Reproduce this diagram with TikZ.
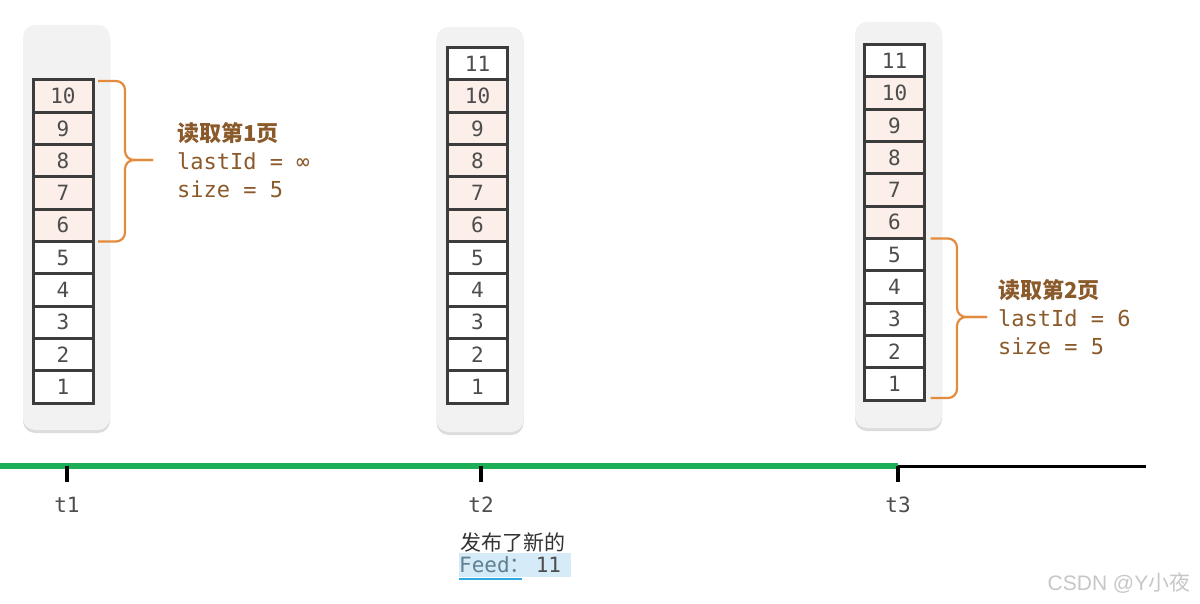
\documentclass[tikz,border=0pt]{standalone}
\usepackage{fontspec}
\usepackage{tikz}
\usetikzlibrary{positioning,calc,shadows}
\usepackage{xcolor}
\setmainfont{Liberation Sans}
\newfontfamily\codefont{DejaVu Sans Mono}
\newfontfamily\cjk{Noto Sans CJK SC}
\definecolor{panelgray}{HTML}{F2F2F2}
\definecolor{cellline}{HTML}{3C3C3C}
\definecolor{pagefill}{HTML}{FCEEE8}
\definecolor{digit}{HTML}{4D4D4D}
\definecolor{bkorange}{HTML}{E38B3C}
\definecolor{brown}{HTML}{8B5A2B}
\definecolor{tlgreen}{HTML}{1DAF55}
\definecolor{hlblue}{HTML}{D5EBF7}
\definecolor{ulblue}{HTML}{2FA8E0}
\definecolor{feedtxt}{HTML}{5F7F94}

\begin{document}
\begin{tikzpicture}[x=1pt,y=-1pt,
        panel/.style={fill=panelgray,rounded corners=12pt,minimum width=87pt,inner sep=0pt,
          drop shadow={shadow xshift=0pt,shadow yshift=-3pt,opacity=.3,fill=black!45}},
        c/.style={draw=cellline,line width=3pt,minimum width=60pt,minimum height=32.3pt,
          inner sep=0pt,outer sep=0pt,text=digit,font=\codefont\fontsize{21}{21}\selectfont},
        b/.style={draw=bkorange,line width=2.2pt,rounded corners=9pt},
        lbl/.style={text=brown,align=left,inner sep=0pt,font=\codefont\fontsize{22}{28}\selectfont},
        tl/.style={text=digit,inner sep=0pt,font=\codefont\fontsize{21}{21}\selectfont},
        tick/.style={line width=3.4pt,black}]
        \fill[white] (0,0) rectangle (1200,604);
        \useasboundingbox (0,0) rectangle (1200,604);
        % panels
        \node[panel,minimum height=405pt] (p1) at (66.5,227.5) {};
        \node[panel,minimum height=405pt] (p2) at (480,229.5) {};
        \node[panel,minimum height=406pt] (p3) at (898.5,225) {};
        % cells
        \foreach \col/\cx/\cy/\n in {l/63/403/10,m/477.5/403/11,r/894.5/400/11}{
          \foreach \k in {1,...,\n}{
            \ifnum\k>5 \ifnum\k<11 \def\cf{pagefill}\else\def\cf{white}\fi\else\def\cf{white}\fi
            \node[c,fill=\cf] (\col\k) at (\cx,{\cy-16.15-(\k-1)*32.3}) {\k};
          }
        }
        % brackets
        \coordinate (tip1) at (153,160);
        \draw[b] ($(l10.north east)+(5,1)$) -| ($(tip1)+(-28,0)$) -- (tip1);
        \draw[b] ($(l6.south east)+(5,0)$) -| ($(tip1)+(-28,0)$) -- (tip1);
        \node[lbl,right=24pt of tip1] (page1) {{\cjk\bfseries 读取第1页}\\lastId = ∞\\size = 5};
        \coordinate (tip2) at (987,317);
        \draw[b] ($(r5.north east)+(6,0)$) -| ($(tip2)+(-30,0)$) -- (tip2);
        \draw[b] ($(r1.south east)+(6,-2)$) -| ($(tip2)+(-30,0)$) -- (tip2);
        \node[lbl,right=11pt of tip2] (page2) {{\cjk\bfseries 读取第2页}\\lastId = 6\\size = 5};
        % timeline
        \coordinate (t0) at (0,466);
        \coordinate (tend) at (1146,466);
        \foreach \x/\n in {67/1,481/2,898/3}{
          \coordinate (k\n) at (\x,466);
          \node[tl] (t\n) at (\x,505) {t\n};
        }
        \draw[tlgreen,line width=6pt] (t0) -- (k3);
        \draw[black,line width=3pt] (k3) -- (tend);
        \foreach \n in {1,2,3} \draw[tick] (k\n) -- ++(0,16);
        % new feed
        \node[text=black!80,font=\cjk\fontsize{21}{21}\selectfont] (pub) at (513,543) {发布了新的};
        \node[fill=hlblue,text=feedtxt,anchor=west,inner xsep=0pt,inner ysep=0pt,text width=112pt,
          minimum height=24pt,font=\codefont\fontsize{21}{21}\selectfont] (feed) at (459,565)
          {Feed{\cjk ：}\hspace{5pt}\textcolor{digit}{11}};
        \draw[ulblue,line width=2pt] ($(feed.south west)+(0,2)$) -- ++(63,0);
        \node[text=black!22,font=\fontsize{21}{21}\selectfont] (wm) at (1119,583) {CSDN @Y{\cjk 小夜}};
      \end{tikzpicture}
\end{document}
